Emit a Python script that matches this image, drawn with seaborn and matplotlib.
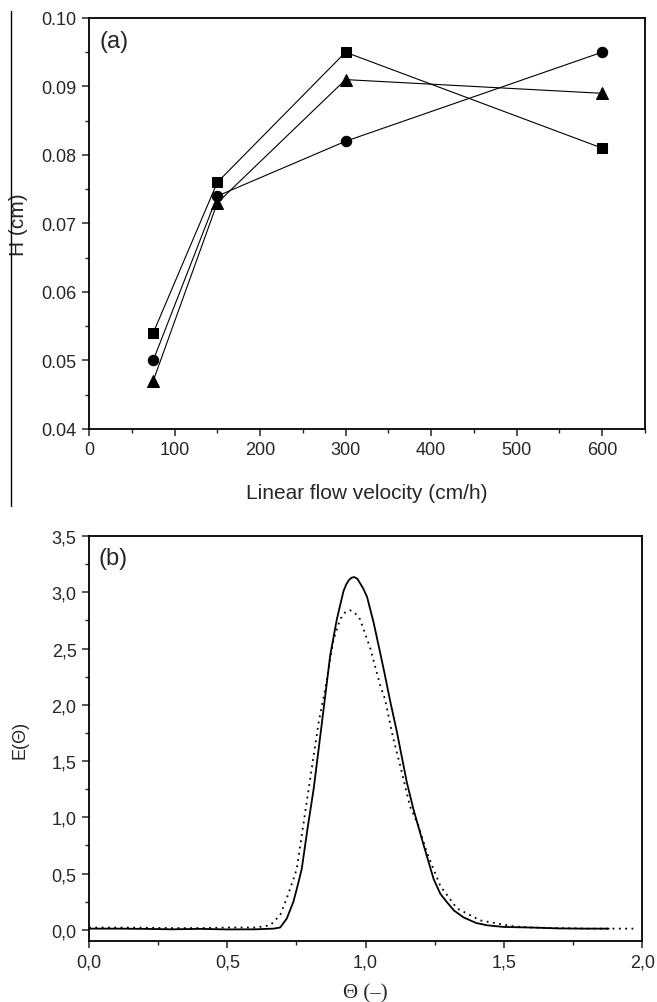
import matplotlib
matplotlib.use("Agg")
import matplotlib.pyplot as plt
import seaborn as sns
from matplotlib.ticker import MultipleLocator, FuncFormatter


# panel (a): plate height vs linear flow velocity
velocity = [75, 150, 300, 600]
h_square = [0.054, 0.076, 0.095, 0.081]
h_circle = [0.050, 0.074, 0.082, 0.095]
h_triangle = [0.047, 0.073, 0.091, 0.089]

# panel (b): residence time distribution curves
theta_solid = [0.00, 0.10, 0.20, 0.30, 0.40, 0.50, 0.60, 0.667, 0.691, 0.715,
               0.739, 0.755, 0.769, 0.790, 0.812, 0.842, 0.872, 0.896, 0.920, 0.930,
               0.940, 0.950, 0.959, 0.970, 0.980, 0.992, 1.005, 1.029, 1.065, 1.089,
               1.113, 1.149, 1.173, 1.210, 1.246, 1.270, 1.294, 1.320, 1.354, 1.400,
               1.439, 1.500, 1.596, 1.700, 1.800, 1.879]
e_solid = [0.010, 0.010, 0.008, 0.004, 0.008, 0.003, 0.004, 0.010, 0.020, 0.100,
           0.250, 0.400, 0.540, 0.900, 1.250, 1.840, 2.440, 2.760, 3.010, 3.070,
           3.110, 3.130, 3.135, 3.120, 3.080, 3.030, 2.960, 2.730, 2.320, 2.030,
           1.760, 1.310, 1.070, 0.750, 0.450, 0.320, 0.245, 0.170, 0.110, 0.060,
           0.040, 0.025, 0.020, 0.012, 0.010, 0.010]

theta_dotted = [0.00, 0.10, 0.20, 0.30, 0.40, 0.50, 0.60, 0.630, 0.655, 0.691,
                0.715, 0.739, 0.751, 0.794, 0.830, 0.854, 0.884, 0.908, 0.925, 0.944,
                0.960, 0.980, 1.017, 1.053, 1.070, 1.100, 1.125, 1.160, 1.190, 1.221,
                1.270, 1.330, 1.415, 1.535, 1.600, 1.700, 1.800, 1.900, 1.980]
e_dotted = [0.020, 0.020, 0.018, 0.015, 0.015, 0.020, 0.020, 0.030, 0.040, 0.130,
            0.280, 0.450, 0.540, 1.250, 1.840, 2.140, 2.580, 2.760, 2.820, 2.840,
            2.820, 2.760, 2.500, 2.170, 2.050, 1.700, 1.460, 1.100, 0.930, 0.690,
            0.390, 0.190, 0.083, 0.030, 0.020, 0.015, 0.010, 0.010, 0.010]


sns.set_style("ticks")
plt.rcParams['font.family'] = ['Liberation Sans', 'DejaVu Sans']
plt.rcParams['axes.linewidth'] = 1.3
plt.rcParams['xtick.major.width'] = 1.1
plt.rcParams['ytick.major.width'] = 1.1
plt.rcParams['xtick.minor.width'] = 1.0
plt.rcParams['ytick.minor.width'] = 1.0

fig = plt.figure(figsize=(6.57, 10.03), dpi=100)
ax1 = fig.add_axes([0.1355, 0.5713, 0.846, 0.4098])
ax2 = fig.add_axes([0.1355, 0.0608, 0.842, 0.4038])

# top panel
sns.lineplot(x=velocity, y=h_square, ax=ax1, color='k', lw=0.8, marker='s', ms=6.5,
             mec='k', mfc='k')
sns.lineplot(x=velocity, y=h_circle, ax=ax1, color='k', lw=0.8, marker='o', ms=7.5,
             mec='k', mfc='k')
sns.lineplot(x=velocity, y=h_triangle, ax=ax1, color='k', lw=0.8, marker='^', ms=8,
             mec='k', mfc='k')
ax1.set_xlim(0, 650)
ax1.set_ylim(0.04, 0.10)
ax1.xaxis.set_major_locator(MultipleLocator(100))
ax1.xaxis.set_minor_locator(MultipleLocator(50))
ax1.yaxis.set_major_locator(MultipleLocator(0.01))
ax1.yaxis.set_minor_locator(MultipleLocator(0.005))
ax1.yaxis.set_major_formatter(FuncFormatter(lambda v, p: '%.2f' % v))
ax1.set_xlabel("Linear flow velocity (cm/h)", fontsize=15, labelpad=18)
ax1.set_ylabel("H (cm)", fontsize=15)
ax1.yaxis.set_label_coords(-0.11, 0.5)
ax1.text(0.018, 0.945, "(a)", transform=ax1.transAxes, fontsize=17, va='center')

# bottom panel
sns.lineplot(x=theta_solid, y=e_solid, ax=ax2, color='k', lw=1.3)
sns.lineplot(x=theta_dotted, y=e_dotted, ax=ax2, color='k', lw=1.3,
             linestyle=(0, (1, 2.5)))
ax2.set_xlim(0, 2.0)
ax2.set_ylim(-0.1, 3.5)
ax2.xaxis.set_major_locator(MultipleLocator(0.5))
ax2.xaxis.set_minor_locator(MultipleLocator(0.25))
ax2.yaxis.set_major_locator(MultipleLocator(0.5))
ax2.yaxis.set_minor_locator(MultipleLocator(0.25))
comma = FuncFormatter(lambda v, p: ('%.1f' % v).replace('.', ','))
ax2.xaxis.set_major_formatter(comma)
ax2.yaxis.set_major_formatter(comma)
ax2.set_xlabel("Θ (–)", fontsize=15, family=['Liberation Serif', 'DejaVu Serif'],
               labelpad=9)
ax2.set_ylabel("E(Θ)", fontsize=13)
ax2.yaxis.set_label_coords(-0.11, 0.5)
ax2.text(0.018, 0.945, "(b)", transform=ax2.transAxes, fontsize=17, va='center')

for ax in (ax1, ax2):
    ax.tick_params(which='major', direction='out', length=5, labelsize=13, pad=4,
                   top=False, right=False)
    ax.tick_params(which='minor', direction='out', length=3, top=False, right=False)
    for s in ax.spines.values():
        s.set_visible(True)
        s.set_color('k')

# stray vertical rule on the left of panel (a)
fig.add_artist(plt.Line2D([0.0163, 0.0163], [1 - 12 / 1003, 1 - 507 / 1003],
                          transform=fig.transFigure, color='k', lw=1.0))

fig.savefig("out.png", dpi=100)
